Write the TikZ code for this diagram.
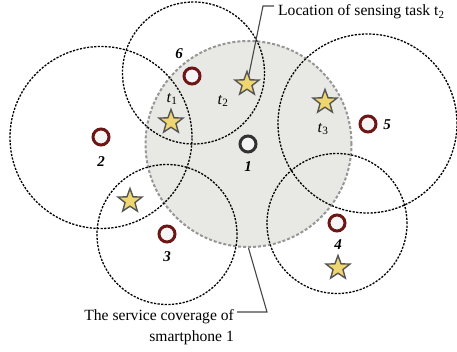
\documentclass[tikz,border=0pt]{standalone}
\usepackage{fontspec}
\setmainfont{Liberation Serif}
\usetikzlibrary{shapes.geometric}
\definecolor{covfill}{RGB}{232,232,228}
\definecolor{covline}{RGB}{150,150,150}
\definecolor{ringred}{RGB}{110,22,22}
\definecolor{ringgray}{RGB}{50,50,50}
\definecolor{starfill}{RGB}{240,214,112}
\definecolor{starline}{RGB}{85,85,85}
\definecolor{callcol}{RGB}{70,70,70}
\tikzset{
  range/.style={circle, draw=black, dash pattern=on 2.2pt off 1.4pt, line width=1.3pt, inner sep=0pt, minimum size=#1},
  phone/.style={circle, draw=ringred, line width=3pt, fill=white!92!gray, inner sep=0pt, minimum size=16pt},
  task/.style={star, star points=5, star point ratio=2.4, draw=starline, line width=1.4pt, fill=starfill, inner sep=0pt, minimum size=25pt},
  num/.style={font=\fontsize{15}{17}\selectfont\bfseries\itshape, inner sep=0pt},
  tlab/.style={font=\fontsize{16}{18}\selectfont, inner sep=0pt},
  callout/.style={draw=callcol, line width=1.1pt},
  capt/.style={font=\fontsize{15.6}{21}\selectfont, inner sep=0pt}
}
\begin{document}
\begin{tikzpicture}[x=1pt,y=-1pt]
\useasboundingbox (0,0) rectangle (457,352);
% coverage of smartphone 1
\node[circle, fill=covfill, draw=covline, dash pattern=on 3pt off 2pt, line width=2pt, inner sep=0pt, minimum size=206pt] (cov1) at (248.5,144) {};
% ranges
\node[range=142pt] (r6) at (193.5,73) {};
\node[range=182pt] (r2) at (101,137.5) {};
\node[range=140pt] (r3) at (167,234.5) {};
\node[range=179pt] (r5) at (367.5,123.5) {};
\node[range=140pt] (r4) at (337,223.5) {};
% callouts
\coordinate (t2loc) at (247,84);
\coordinate (c1a) at (263,6);
\coordinate (c1b) at (274,6);
\draw[callout] (t2loc) -- (c1a) -- (c1b);
\node[capt, anchor=base west] (cap1) at (278,16) {Location of sensing task t\textsubscript{2}};
\coordinate (c2a) at (267,312);
\coordinate (c2b) at (237,312);
\draw[callout] (cov1.south) -- (c2a) -- (c2b);
\node[capt, anchor=north east, align=right] (cap2) at (234,309) {The service coverage of\\smartphone 1};
% phones
\node[phone] (p6) at (192,76) {};
\node[phone] (p2) at (101,137) {};
\node[phone] (p3) at (167,234) {};
\node[phone, draw=ringgray] (p1) at (248,144) {};
\node[phone] (p5) at (368,124) {};
\node[phone] (p4) at (337,223) {};
\node[num] (n6) at (179,54) {6};
\node[num] (n2) at (101,162) {2};
\node[num] (n3) at (167,257) {3};
\node[num] (n1) at (248,167) {1};
\node[num] (n5) at (387,125) {5};
\node[num] (n4) at (338,245) {4};
% tasks
\node[task] (s2) at (t2loc) {};
\node[task] (s1) at (171,122) {};
\node[task] (s3) at (325,102) {};
\node[task] (sa) at (130,201) {};
\node[task] (sb) at (338,268) {};
\node[tlab] (l1) at (172,99) {\textit{t}\textsubscript{1}};
\node[tlab] (l2) at (223,101) {\textit{t}\textsubscript{2}};
\node[tlab] (l3) at (323,129) {\textit{t}\textsubscript{3}};
\end{tikzpicture}
\end{document}
